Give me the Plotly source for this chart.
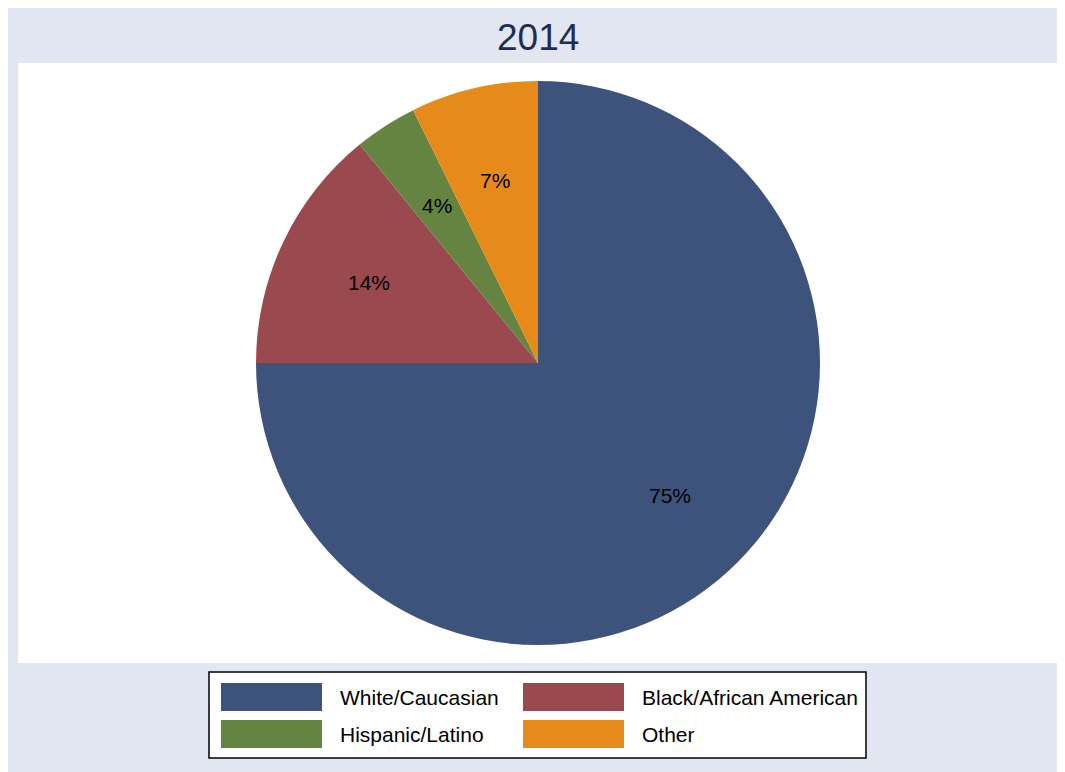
import math
import plotly.graph_objects as go

categories = ["White/Caucasian", "Black/African American", "Hispanic/Latino", "Other"]
shares = [75.0, 14.1, 3.6, 7.3]
colors = ["#3E537C", "#9A494F", "#668441", "#E68A1A"]
title_text = "2014"

W, H = 1065, 772

def px(x):
    return x / W

def py(y):
    return 1 - y / H

# pie geometry (pixels within figure)
CX, CY, R = 530, 355, 282
LABEL_R = 0.663

fig = go.Figure()
fig.add_trace(go.Pie(
    labels=categories,
    values=shares,
    sort=False,
    direction="clockwise",
    rotation=0,
    marker=dict(colors=colors, line=dict(width=0)),
    textinfo="none",
    domain=dict(x=[px(CX - R), px(CX + R)], y=[py(CY + R), py(CY - R)]),
    showlegend=False,
    hoverinfo="label+percent",
))

shapes = [
    dict(type="rect", xref="paper", yref="paper", x0=0, x1=1, y0=0, y1=1,
         fillcolor="#E1E6F0", line=dict(width=0), layer="below"),
    dict(type="rect", xref="paper", yref="paper", x0=px(10), x1=px(1049), y0=py(655), y1=py(55),
         fillcolor="white", line=dict(width=0), layer="below"),
    dict(type="rect", xref="paper", yref="paper", x0=px(201), x1=px(858), y0=py(750), y1=py(664),
         fillcolor="white", line=dict(width=1.5, color="black"), layer="below"),
]
annotations = [
    dict(text=title_text, xref="paper", yref="paper", x=px(530), y=py(29), showarrow=False,
         xanchor="center", yanchor="middle",
         font=dict(family="Liberation Sans, Arial", size=37, color="#1E2D54")),
]

# slice percentage labels placed along each slice's mid-angle
total = sum(shares)
cum = 0.0
for v in shares:
    mid = (cum + v / 2) / total * 2 * math.pi
    cum += v
    lx = CX + LABEL_R * R * math.sin(mid)
    ly = CY - LABEL_R * R * math.cos(mid)
    annotations.append(dict(text=f"{round(v / total * 100):d}%", xref="paper", yref="paper",
                            x=px(lx), y=py(ly), showarrow=False, xanchor="center", yanchor="middle",
                            font=dict(family="Liberation Sans, Arial", size=21, color="black")))

# custom legend: 2 columns x 2 rows
col_x = [213, 515]
row_y = [675, 712]
for i, (cat, col) in enumerate(zip(categories, colors)):
    cx = col_x[i % 2]
    ry = row_y[i // 2]
    shapes.append(dict(type="rect", xref="paper", yref="paper", x0=px(cx), x1=px(cx + 101),
                       y0=py(ry + 28), y1=py(ry), fillcolor=col, line=dict(width=0)))
    annotations.append(dict(text=cat, xref="paper", yref="paper", x=px(cx + 117), y=py(ry + 14),
                            showarrow=False, xanchor="left", yanchor="middle",
                            font=dict(family="Liberation Sans, Arial", size=21, color="black")))

fig.update_layout(
    width=W, height=H,
    margin=dict(l=0, r=0, t=0, b=0),
    paper_bgcolor="white",
    plot_bgcolor="white",
    shapes=shapes,
    annotations=annotations,
)

fig.write_html("out.html")
